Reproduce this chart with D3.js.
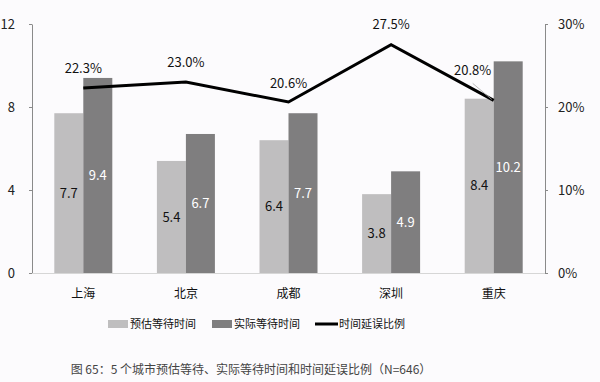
<!DOCTYPE html>
<html><head><meta charset="utf-8">
<script src="https://cdn.jsdelivr.net/npm/d3@7"></script>
<style>
html,body{margin:0;padding:0;background:#fcfbfd;}
svg{display:block;font-family:"Noto Sans CJK SC","Noto Sans",sans-serif;}
</style></head>
<body><svg id="c" width="600" height="382"></svg>
<script>
const categories = ["上海","北京","成都","深圳","重庆"];
const estimated = [7.7,5.4,6.4,3.8,8.4];
const actual = [9.4,6.7,7.7,4.9,10.2];
const delayRatio = [22.3,23.0,20.6,27.5,20.8];
const leftTicks = [0,4,8,12];
const rightTicks = [0,10,20,30];
const seriesNames = ["预估等待时间","实际等待时间","时间延误比例"];
const caption = "图 65：5 个城市预估等待、实际等待时间和时间延误比例（N=646）";

const svg = d3.select("#c");
const L = 32, R = 545, T = 24, B = 273;
const x = d3.scaleBand().domain(categories).range([L, R]);
const yL = d3.scaleLinear().domain([0,12]).range([B,T]);
const yR = d3.scaleLinear().domain([0,30]).range([B,T]);
const bw = 29;
const lightC = "#bfbebf", darkC = "#7f7e7f";

// axes
const axL = svg.append("g").attr("transform",`translate(${L},0)`)
  .call(d3.axisLeft(yL).tickValues(leftTicks).tickSize(3).tickSizeOuter(0).tickPadding(14));
const axR = svg.append("g").attr("transform",`translate(${R},0)`)
  .call(d3.axisRight(yR).tickValues(rightTicks).tickSize(3).tickSizeOuter(0).tickPadding(10).tickFormat(d=>d+"%"));
[axL,axR].forEach(a=>{
  a.select(".domain").attr("stroke","#8a8a8a");
  a.selectAll(".tick line").attr("stroke","#8a8a8a");
  a.selectAll("text").attr("font-size",13).attr("fill","#222").attr("font-family","'Noto Sans CJK SC',sans-serif");
});
// baseline
svg.append("line").attr("x1",L).attr("x2",R).attr("y1",yL(0)+0.5).attr("y2",yL(0)+0.5).attr("stroke","#d6d6d6");

const cx = c => x(c) + x.bandwidth()/2;
// bars
svg.selectAll(".b1").data(categories).join("rect")
  .attr("x",c=>cx(c)-bw).attr("width",bw)
  .attr("y",(c,i)=>yL(estimated[i])).attr("height",(c,i)=>yL(0)-yL(estimated[i]))
  .attr("fill",lightC);
svg.selectAll(".b2").data(categories).join("rect")
  .attr("x",c=>cx(c)).attr("width",bw)
  .attr("y",(c,i)=>yL(actual[i])).attr("height",(c,i)=>yL(0)-yL(actual[i]))
  .attr("fill",darkC);
// bar labels
svg.selectAll(".l1").data(categories).join("text")
  .attr("x",c=>cx(c)-bw/2).attr("y",(c,i)=>(yL(estimated[i])+yL(0))/2)
  .attr("dy","0.35em").attr("text-anchor","middle").attr("font-size",13).attr("fill","#111")
  .text((c,i)=>estimated[i].toFixed(1));
svg.selectAll(".l2").data(categories).join("text")
  .attr("x",c=>cx(c)+bw/2).attr("y",(c,i)=>(yL(actual[i])+yL(0))/2)
  .attr("dy","0.35em").attr("text-anchor","middle").attr("font-size",13).attr("fill","#fff")
  .text((c,i)=>actual[i].toFixed(1));
// line
const line = d3.line().x((d,i)=>cx(categories[i])).y(d=>yR(d));
svg.append("path").attr("d",line(delayRatio)).attr("fill","none").attr("stroke","#000").attr("stroke-width",3).attr("stroke-linejoin","miter");
// line labels
const offs = [[0,-19],[0,-20],[0,-19],[0,-20],[-21,-30]];
delayRatio.forEach((v,i)=>{
  const px = cx(categories[i]), py = yR(v);
  const [dx,dy] = offs[i];
  if (dx !== 0) {
    svg.append("line").attr("x1",px+dx).attr("y1",py+dy+13).attr("x2",px-2).attr("y2",py-1)
      .attr("stroke","#aaa").attr("stroke-width",0.8);
  }
  svg.append("text").attr("x",px+dx).attr("y",py+dy).attr("dy","0.35em")
    .attr("text-anchor","middle").attr("font-size",13).attr("fill","#111").text(v.toFixed(1)+"%");
});
// category labels
svg.selectAll(".cat").data(categories).join("text")
  .attr("x",c=>cx(c)).attr("y",294).attr("dy","0.35em").attr("text-anchor","middle")
  .attr("font-size",12).attr("fill","#111").text(c=>c);
// legend
const lg = svg.append("g");
const items = [{x:108,type:"rect",c:lightC},{x:212,type:"rect",c:darkC},{x:315,type:"line",c:"#000"}];
items.forEach((it,i)=>{
  if (it.type==="rect") lg.append("rect").attr("x",it.x).attr("y",320).attr("width",20).attr("height",8).attr("fill",it.c);
  else lg.append("line").attr("x1",it.x).attr("x2",it.x+23).attr("y1",324).attr("y2",324).attr("stroke",it.c).attr("stroke-width",3);
  lg.append("text").attr("x",it.x+(it.type==="rect"?22:24)).attr("y",324).attr("dy","0.35em")
    .attr("font-size",11).attr("fill","#111").text(seriesNames[i]);
});
// caption
svg.append("text").attr("x",251).attr("y",370).attr("dy","0.35em").attr("text-anchor","middle")
  .attr("font-size",12).attr("fill","#444").text(caption);
</script></body></html>
